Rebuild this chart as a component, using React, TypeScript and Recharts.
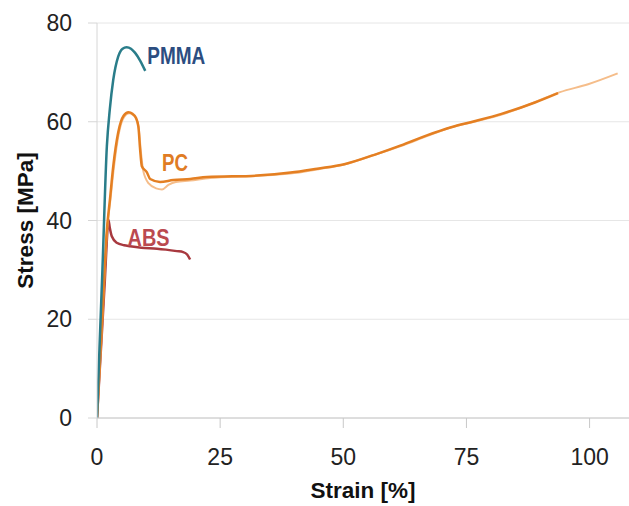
import React from "react";
import {
  ComposedChart,
  Line,
  XAxis,
  YAxis,
  CartesianGrid,
  ReferenceDot,
} from "recharts";

type Pt = { strain: number; stress: number };

const xTicks = [0, 25, 50, 75, 100];
const yTicks = [0, 20, 40, 60, 80];

// strain [%], stress [MPa]
const pmmaStrain = [0, 0.5, 1.1, 2.0, 2.6, 3.3, 4.3, 5.2, 6.0, 6.9, 7.7, 8.75, 9.8];
const pmmaStress = [0, 14, 30, 55, 62.5, 68.5, 73.2, 74.8, 75.1, 74.8, 74.0, 72.4, 70.3];

const pcStrain = [
  0, 1, 2, 2.65, 3.3, 4.3, 5.4, 6.4, 7.2, 7.9, 8.4, 8.75, 9.1, 10.1, 10.8, 12.8,
  15.5, 18.9, 22.3, 32.5, 39.3, 44.7, 50.2, 56.3, 61.7, 67.1, 71.9, 76.6, 82.1,
  88.9, 93.6,
];
const pcStress = [
  0, 19, 38, 44.5, 51, 57.8, 61.2, 61.9, 61.6, 60.8, 59, 54.4, 51, 49.8, 48.4,
  47.8, 48.2, 48.4, 48.8, 49.1, 49.7, 50.5, 51.4, 53.3, 55.2, 57.3, 58.9, 60.1,
  61.6, 63.9, 65.8,
];

const pc2Strain = [
  0, 1, 2, 2.7, 3.4, 4.4, 5.5, 6.5, 7.3, 8.0, 8.5, 8.9, 9.4, 10.5, 12, 13.2,
  14.5, 16, 18.9, 23, 32, 40, 45, 50, 56, 62, 67, 72, 77, 82, 89, 94, 99.7,
  105.7,
];
const pc2Stress = [
  0, 18.5, 37.5, 44, 50.5, 57.5, 61, 61.7, 61.4, 60.5, 58.5, 54, 50, 47.5, 46.5,
  46.3, 47.2, 47.8, 48.1, 48.6, 49, 49.6, 50.4, 51.3, 53.2, 55.2, 57.1, 58.9,
  60.1, 61.4, 64, 66, 67.6, 69.8,
];

const absStrain = [
  0, 0.8, 1.6, 2.0, 2.3, 2.6, 3.0, 4.0, 5.5, 6.7, 9, 12.2, 14, 16.2, 17.5, 18.3,
  18.9,
];
const absStress = [
  0, 14, 28, 36, 40.2, 38.5, 36.8, 35.5, 35, 34.8, 34.5, 34.3, 34.1, 33.8, 33.6,
  33.1, 32.1,
];

const toPts = (xs: number[], ys: number[]): Pt[] =>
  xs.map((x, i) => ({ strain: x, stress: ys[i] }));

const pmma = toPts(pmmaStrain, pmmaStress);
const pc = toPts(pcStrain, pcStress);
const pc2 = toPts(pc2Strain, pc2Stress);
const abs = toPts(absStrain, absStress);

const font = "'Liberation Sans', Arial, sans-serif";

const tickFont = {
  fill: "#222",
  fontSize: 23,
  fontFamily: font,
};

const YTitle = ({ viewBox }: any) => {
  const cy = viewBox.y + viewBox.height / 2;
  return (
    <text
      x={25}
      y={cy}
      transform={`rotate(-90, 25, ${cy})`}
      textAnchor="middle"
      dominantBaseline="central"
      fontSize={22.5}
      fontWeight={700}
      fontFamily={font}
      fill="#111"
    >
      Stress [MPa]
    </text>
  );
};

// condensed bold tag next to each curve
const tag = (value: string, fill: string, len: number) => ({ viewBox }: any) => (
  <text
    x={viewBox.x}
    y={viewBox.y}
    dy="0.36em"
    fill={fill}
    fontSize={24}
    fontWeight={700}
    fontFamily={font}
    textLength={len}
    lengthAdjust="spacingAndGlyphs"
  >
    {value}
  </text>
);

export default function App() {
  return (
    <div style={{ position: "absolute", left: 0, top: 0, background: "#fff" }}>
      <ComposedChart
        width={629}
        height={506}
        margin={{ top: 23, right: 0, left: 0, bottom: 0 }}
      >
        <CartesianGrid vertical={false} stroke="#e6e6e6" />
        <XAxis
          type="number"
          dataKey="strain"
          domain={[0, 108]}
          ticks={xTicks}
          allowDataOverflow
          height={88}
          tickSize={10}
          tickMargin={21}
          tick={tickFont}
          axisLine={{ stroke: "#c8c8c8" }}
          tickLine={{ stroke: "#c8c8c8" }}
          label={{
            value: "Strain [%]",
            position: "insideBottom",
            offset: 8,
            fontSize: 22.5,
            fontWeight: 700,
            fontFamily: font,
            fill: "#111",
          }}
        />
        <YAxis
          type="number"
          dataKey="stress"
          domain={[0, 80]}
          ticks={yTicks}
          width={97}
          tickSize={9}
          tickMargin={16}
          tick={tickFont}
          axisLine={{ stroke: "#d6d6d6" }}
          tickLine={{ stroke: "#d6d6d6" }}
          label={<YTitle />}
        />
        <Line
          data={abs}
          dataKey="stress"
          type="monotone"
          stroke="#a8393f"
          strokeWidth={2.5}
          dot={false}
          isAnimationActive={false}
        />
        <Line
          data={pc2}
          dataKey="stress"
          type="monotone"
          stroke="#f5bd8a"
          strokeWidth={2}
          dot={false}
          isAnimationActive={false}
        />
        <Line
          data={pc}
          dataKey="stress"
          type="monotone"
          stroke="#e47f22"
          strokeWidth={2.5}
          dot={false}
          isAnimationActive={false}
        />
        <Line
          data={pmma}
          dataKey="stress"
          type="monotone"
          stroke="#2a7d8a"
          strokeWidth={2.5}
          dot={false}
          isAnimationActive={false}
        />
        <ReferenceDot
          x={10.2}
          y={73.5}
          r={0}
          fill="none"
          stroke="none"
          label={tag("PMMA", "#2c4d80", 58)}
        />
        <ReferenceDot
          x={13.2}
          y={51.8}
          r={0}
          fill="none"
          stroke="none"
          label={tag("PC", "#e07c24", 26)}
        />
        <ReferenceDot
          x={6.2}
          y={36.6}
          r={0}
          fill="none"
          stroke="none"
          label={tag("ABS", "#bb4a50", 42)}
        />
      </ComposedChart>
    </div>
  );
}
